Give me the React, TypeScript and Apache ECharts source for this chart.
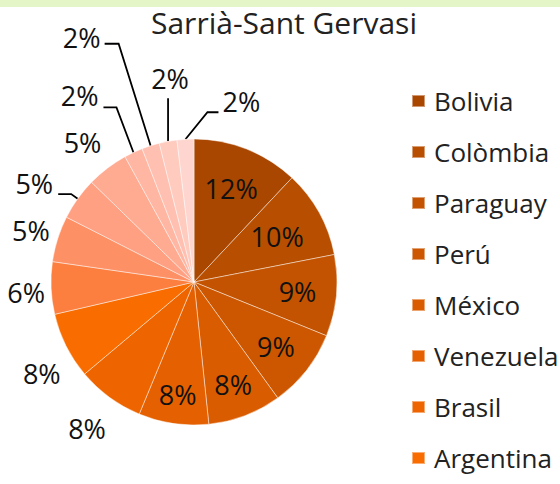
import React, { useEffect, useRef } from "react";
import * as echarts from "echarts";

const titleText = "Sarrià-Sant Gervasi";
const countries = [
  "Bolivia", "Colòmbia", "Paraguay", "Perú", "México", "Venezuela", "Brasil", "Argentina",
  "Equador", "Xile", "Uruguai", "Cuba", "República Dominicana", "Hondures", "El Salvador", "Guatemala",
];
const shares = [12.0, 9.9, 9.2, 8.9, 8.3, 7.9, 7.6, 7.5, 5.9, 5.2, 4.8, 4.7, 2.1, 2.0, 2.0, 1.9];
const legendCountries = countries.slice(0, 8);
const colors = [
  "#a94600", "#b84e00", "#c35300", "#cd5700", "#d95c00", "#e46000", "#ee6500", "#f86c00",
  "#fd7f3f", "#fe9066", "#ffa082", "#ffab92", "#ffb6a2", "#ffc0b1", "#ffcbbf", "#ffd6cf",
];

// label placement styles (distance from centre, or leader-line segments)
type Place = {
  d?: number; dx?: number; dy?: number;
  radial?: number; seg1?: [number, number]; seg2?: number;
  align?: "left" | "right" | "center"; lx?: number; ly?: number;
};
const placement: Place[] = [
  { d: 101 }, { d: 95 }, { d: 104 }, { d: 104 }, { d: 110 }, { d: 114 },
  { d: 181 }, { d: 178, dx: 7, dy: 12 }, { d: 168, dy: 3 }, { d: 171 },
  { radial: 8, seg2: -13, align: "right", lx: -5, ly: -11 },
  { d: 179, dx: -3, dy: 3 },
  { seg1: [-17, -45], seg2: -13, align: "right", lx: -5, ly: -12 },
  { seg1: [-32, -102], seg2: -14, align: "right", lx: -4, ly: -6 },
  { seg1: [0, -43], align: "center", lx: 2, ly: -20 },
  { seg1: [22, -27], seg2: 11, align: "left", lx: 4, ly: -11 },
];
const withLine = [10, 12, 13, 14, 15];

const CX = 194, CY = 282, R = 143;
const FONT = "'Open Sans', 'DejaVu Sans', sans-serif";

export default function App() {
  const ref = useRef<HTMLDivElement>(null);
  useEffect(() => {
    document.body.style.margin = "0";
    const chart = echarts.init(ref.current!, null, { renderer: "svg" });
    const total = shares.reduce((a, b) => a + b, 0);
    const mids: number[] = [];
    let cum = 0;
    shares.forEach((v) => {
      mids.push(((cum + v / 2) / total) * Math.PI * 2);
      cum += v;
    });
    const data = countries.map((name, i) => ({
      name,
      value: shares[i],
      itemStyle: { color: colors[i] },
      labelLine: { show: withLine.includes(i) },
    }));
    chart.setOption({
      animation: false,
      graphic: [
        { type: "rect", shape: { x: 0, y: 0, width: 560, height: 7 }, style: { fill: "#e4f5c8" }, silent: true },
        {
          type: "text", x: 284, y: 22,
          style: {
            text: titleText, font: `30px ${FONT}`, fill: "#222",
            align: "center", verticalAlign: "middle",
          },
        },
      ],
      legend: {
        data: legendCountries,
        orient: "vertical",
        left: 406,
        top: 83,
        icon: "rect",
        itemWidth: 13,
        itemHeight: 12,
        itemGap: 25,
        selectedMode: false,
        textStyle: { fontFamily: FONT, fontSize: 26, color: "#222", padding: [0, 0, 0, 4] },
      },
      series: [
        {
          type: "pie",
          center: [CX, CY],
          radius: R,
          startAngle: 90,
          clockwise: true,
          avoidLabelOverlap: false,
          itemStyle: { borderColor: "rgba(255,255,255,0.45)", borderWidth: 1 },
          label: {
            show: true,
            position: "outside",
            fontFamily: FONT,
            fontSize: 27,
            color: "#111",
            formatter: (p: any) => `${Math.round((p.value / total) * 100)}%`,
          },
          labelLine: { show: false, lineStyle: { color: "#000", width: 1.8 } },
          labelLayout: (params: any) => {
            const i = params.dataIndex;
            const p = placement[i];
            const a = mids[i];
            const ux = Math.sin(a), uy = -Math.cos(a);
            if (p.d != null) {
              return {
                x: CX + ux * p.d + (p.dx || 0),
                y: CY + uy * p.d + (p.dy || 0),
                align: "center",
                verticalAlign: "middle",
              };
            }
            const p0 = [CX + ux * R, CY + uy * R];
            const p1 = p.radial != null
              ? [p0[0] + ux * p.radial, p0[1] + uy * p.radial]
              : [p0[0] + p.seg1![0], p0[1] + p.seg1![1]];
            const pts = [p0, p1];
            let end = p1;
            if (p.seg2) {
              end = [p1[0] + p.seg2, p1[1]];
              pts.push(end);
            }
            return {
              x: end[0] + (p.lx || 0),
              y: end[1] + (p.ly || 0),
              align: p.align,
              verticalAlign: "middle",
              labelLinePoints: pts,
            };
          },
          data,
        },
      ],
    });
    return () => chart.dispose();
  }, []);
  return <div ref={ref} style={{ width: 560, height: 484 }} />;
}
